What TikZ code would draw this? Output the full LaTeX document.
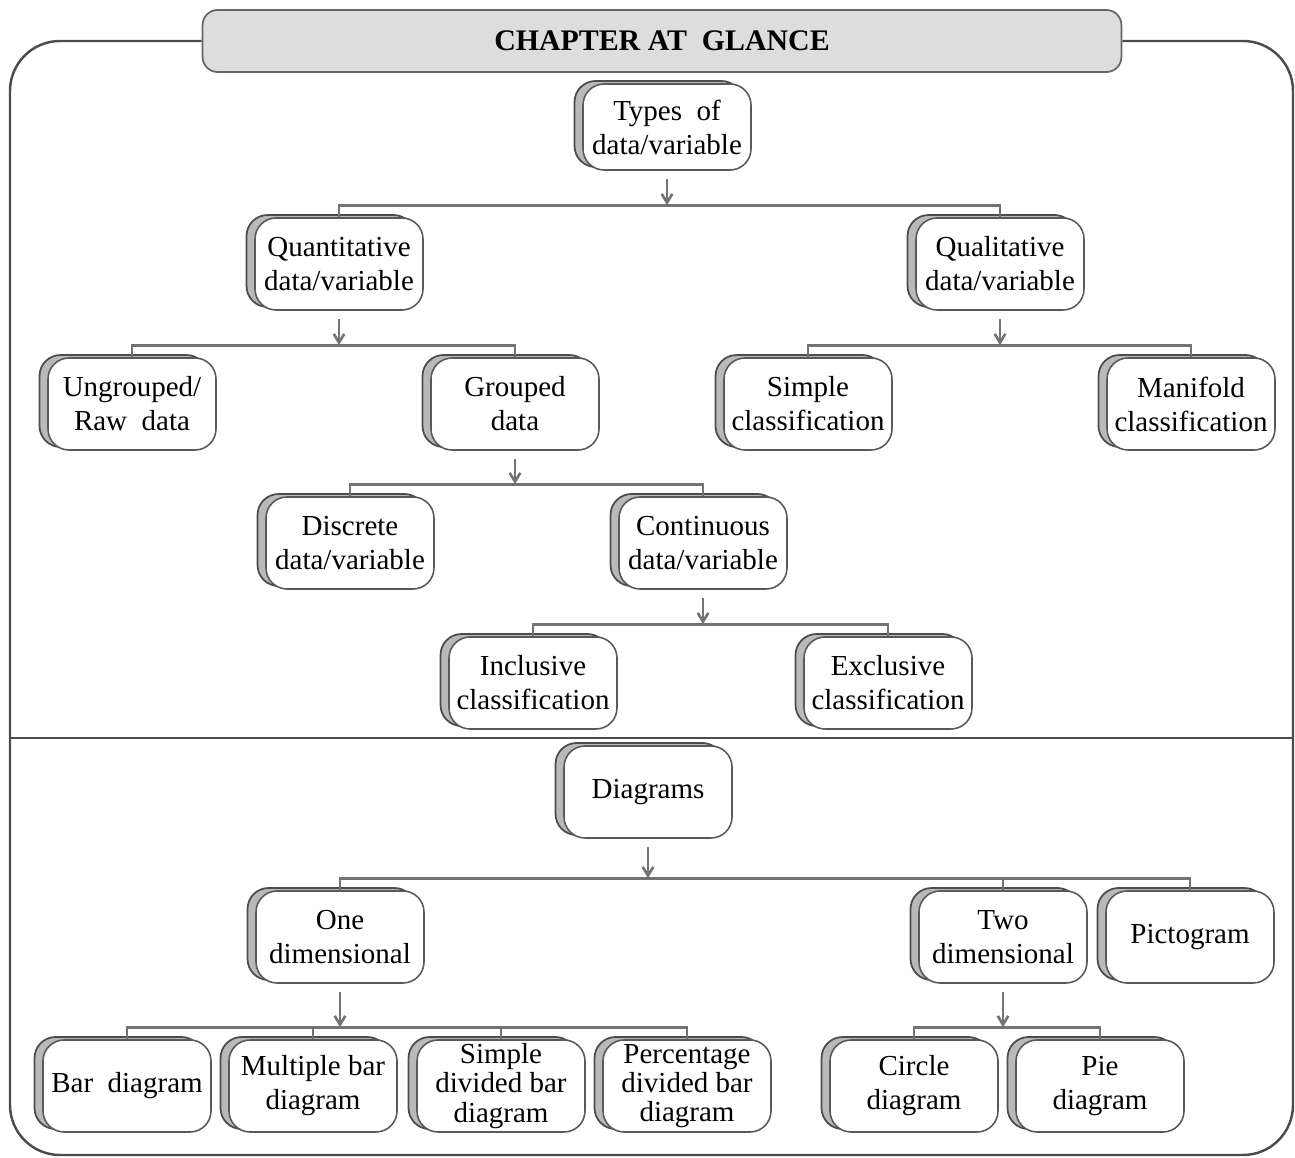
\documentclass[tikz,border=0pt]{standalone}
\usepackage{fontspec}
\setmainfont{Liberation Serif}
\usetikzlibrary{shadows,arrows.meta,calc}

\tikzset{
  item/.style={draw=black!65, line width=0.9pt, fill=white, rounded corners=0.42cm,
    minimum width=3.36cm, minimum height=1.84cm, align=center, inner sep=2pt,
    font=\fontsize{16.5}{19.3}\selectfont,
    general shadow={fill=gray!55, draw=black!70, line width=1pt,
      shadow xshift=-0.17cm, shadow yshift=0.06cm}},
  tight/.style={font=\fontsize{16.5}{16.6}\selectfont},
  head/.style={draw=black!60, line width=1pt, fill=gray!27, rounded corners=0.3cm,
    minimum width=18.38cm, minimum height=1.24cm,
    font=\bfseries\fontsize{17}{20}\selectfont},
  link/.style={draw=black!55, line width=1.5pt},
  down/.style={link, -{Straight Barb[length=5pt,width=6pt]}},
  frame/.style={draw=black!70, line width=1.4pt}
}

\begin{document}
\begin{tikzpicture}[x=0.02cm,y=-0.02cm]
\useasboundingbox (0,0) rectangle (1295,1158);

% header and frame
\node[head] (title) at (662,41) {CHAPTER AT\ \ GLANCE};
\draw[frame, rounded corners=1cm] (title.west) -- (10,41) -- (10,1155) -- (1293,1155) -- (1293,41) -- (title.east);
\draw[frame, line width=1.1pt] (10,738) -- (1293,738);

% types of data
\node[item, minimum height=1.72cm] (types) at (667,127) {Types\ \ of\\data/variable};
\node[item] (quant) at (339,264) {Quantitative\\data/variable};
\node[item] (qual) at (1000,264) {Qualitative\\data/variable};
\node[item] (ungrp) at (132,404) {Ungrouped/\\Raw\ \ data};
\node[item] (grp) at (515,404) {Grouped\\data};
\node[item] (simple) at (808,404) {Simple\\classification};
\node[item] (manifold) at (1191,404) {Manifold\\classification};
\node[item] (discrete) at (350,543) {Discrete\\data/variable};
\node[item] (cont) at (703,543) {Continuous\\data/variable};
\node[item] (incl) at (533,683) {Inclusive\\classification};
\node[item] (excl) at (888,683) {Exclusive\\classification};

% diagrams
\node[item] (diag) at (648,792) {Diagrams};
\node[item] (onedim) at (340,937) {One\\dimensional};
\node[item] (twodim) at (1003,937) {Two\\dimensional};
\node[item] (picto) at (1190,937) {Pictogram};
\node[item] (bar) at (127,1086) {Bar\ \ diagram};
\node[item] (multi) at (313,1086) {Multiple bar\\diagram};
\node[item, tight] (sdiv) at (501,1086) {Simple\\divided bar\\diagram};
\node[item, tight] (pdiv) at (687,1086) {Percentage\\divided bar\\diagram};
\node[item] (circ) at (914,1086) {Circle\\diagram};
\node[item] (pie) at (1100,1086) {Pie\\diagram};

% connectors
\draw[link] (quant.north) -- ++(0,-12) -| (qual.north);
\draw[down] ([yshift=-0.16cm]types.south) -- ($(types.south |- quant.north)+(0,-12)$);

\draw[link] (ungrp.north) -- ++(0,-12) -| (grp.north);
\draw[down] ([yshift=-0.16cm]quant.south) -- ($(quant.south |- ungrp.north)+(0,-12)$);

\draw[link] (simple.north) -- ++(0,-12) -| (manifold.north);
\draw[down] ([yshift=-0.16cm]qual.south) -- ($(qual.south |- simple.north)+(0,-12)$);

\draw[link] (discrete.north) -- ++(0,-12) -| (cont.north);
\draw[down] ([yshift=-0.16cm]grp.south) -- ($(grp.south |- discrete.north)+(0,-12)$);

\draw[link] (incl.north) -- ++(0,-12) -| (excl.north);
\draw[down] ([yshift=-0.16cm]cont.south) -- ($(cont.south |- incl.north)+(0,-12)$);

\draw[link] (onedim.north) -- ++(0,-12) -| (picto.north);
\draw[link] (twodim.north) -- ++(0,-12);
\draw[down] ([yshift=-0.16cm]diag.south) -- ($(diag.south |- onedim.north)+(0,-12)$);

\draw[link] (bar.north) -- ++(0,-12) -| (pdiv.north);
\draw[link] (multi.north) -- ++(0,-12);
\draw[link] (sdiv.north) -- ++(0,-12);
\draw[down] ([yshift=-0.16cm]onedim.south) -- ($(onedim.south |- bar.north)+(0,-12)$);

\draw[link] (circ.north) -- ++(0,-12) -| (pie.north);
\draw[down] ([yshift=-0.16cm]twodim.south) -- ($(twodim.south |- circ.north)+(0,-12)$);
\end{tikzpicture}
\end{document}
